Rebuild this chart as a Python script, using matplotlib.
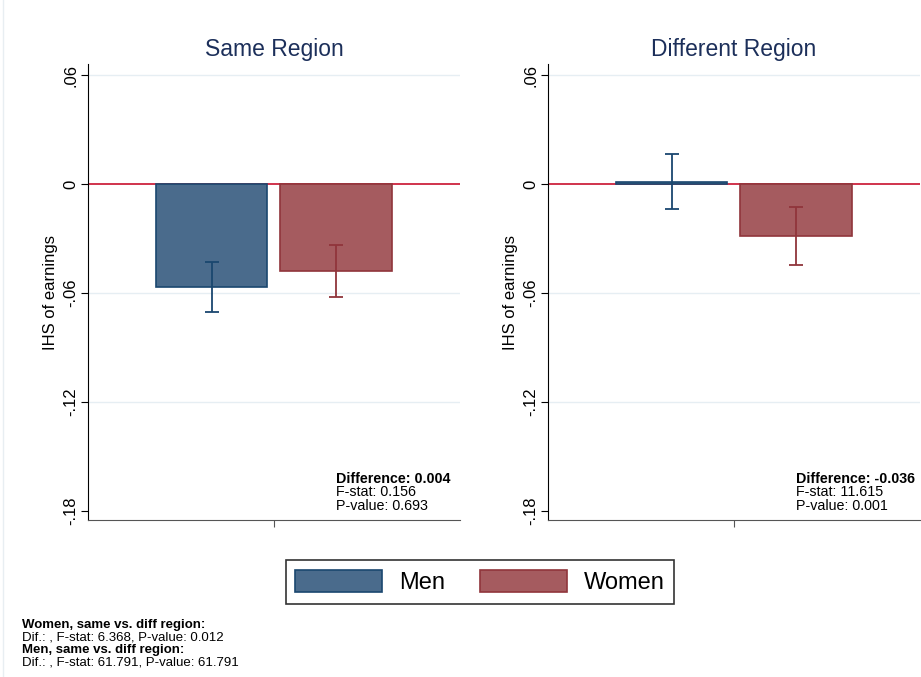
import matplotlib.pyplot as plt
from matplotlib.patches import Patch
from matplotlib.lines import Line2D

plt.rcParams["font.family"] = ["Liberation Sans", "DejaVu Sans"]

# values
panels = ["Same Region", "Different Region"]
groups = ["Men", "Women"]
men_mean = [-0.0567, 0.0012]
men_lo = [-0.0702, -0.0139]
men_hi = [-0.0432, 0.0167]
women_mean = [-0.0479, -0.0286]
women_lo = [-0.0622, -0.0447]
women_hi = [-0.0338, -0.0129]
diff_text = ["0.004", "-0.036"]
fstat_text = ["0.156", "11.615"]
pval_text = ["0.693", "0.001"]
yticks = [0.06, 0, -0.06, -0.12, -0.18]
ytick_labels = [".06", "0", "-.06", "-.12", "-.18"]
notes = [
    ("Women, same vs. diff region:", "bold"),
    ("Dif.: , F-stat: 6.368, P-value: 0.012", "normal"),
    ("Men, same vs. diff region:", "bold"),
    ("Dif.: , F-stat: 61.791, P-value: 61.791", "normal"),
]

men_fill, men_edge = "#4a6b8c", "#1a476f"
women_fill, women_edge = "#a55b5f", "#90353b"

fig = plt.figure(figsize=(9.21, 6.77), dpi=100)
fig.add_artist(Line2D([3 / 921, 3 / 921], [0, 1], color="#e8eef2", lw=1))
lefts = [88 / 921, 548 / 921]
for i, title in enumerate(panels):
    ax = fig.add_axes([lefts[i], 1 - 520 / 677, 372 / 921, 456 / 677])
    ax.axhline(0, color="#c8102e", lw=1.2, zorder=1)
    for y in [-0.06, -0.12, 0.06]:
        ax.axhline(y, color="#e6eef3", lw=1, zorder=0)
    for x, m, lo, hi, fc, ec in [
        (-0.335, men_mean[i], men_lo[i], men_hi[i], men_fill, men_edge),
        (0.333, women_mean[i], women_lo[i], women_hi[i], women_fill, women_edge),
    ]:
        ax.bar(x, m, width=0.6, color=fc, edgecolor=ec, lw=1.2, zorder=2)
        ax.errorbar(x, m, yerr=[[m - lo], [hi - m]], fmt="none", ecolor=ec,
                    elinewidth=1.3, capsize=5, capthick=1.3, zorder=3)
    ax.set_xlim(-1, 1)
    ax.set_ylim(-0.185, 0.0661)
    ax.set_yticks(yticks)
    ax.set_yticklabels(ytick_labels, rotation=90, va="center", fontsize=12)
    ax.set_xticks([0])
    ax.set_xticklabels([""])
    ax.tick_params(axis="x", length=5, color="#555555")
    ax.tick_params(axis="y", length=5, pad=2)
    for s in ["top", "right"]:
        ax.spines[s].set_visible(False)
    ax.spines["bottom"].set_color("#555555")
    ax.set_ylabel("IHS of earnings", fontsize=12, labelpad=4)
    ax.set_title(title, fontsize=16.5, color="#1c2f5a", pad=6)
    ax.text(0.667, 0.082, "Difference: " + diff_text[i], transform=ax.transAxes,
            fontsize=10.3, fontweight="bold", va="baseline")
    ax.text(0.667, 0.052, "F-stat: " + fstat_text[i], transform=ax.transAxes,
            fontsize=10.3, va="baseline")
    ax.text(0.667, 0.022, "P-value: " + pval_text[i], transform=ax.transAxes,
            fontsize=10.3, va="baseline")

handles = [Patch(facecolor=men_fill, edgecolor=men_edge, lw=1.2),
           Patch(facecolor=women_fill, edgecolor=women_edge, lw=1.2)]
leg = fig.legend(handles, groups, loc="center", bbox_to_anchor=(480 / 921, 1 - 582 / 677),
                 ncol=2, fontsize=17, frameon=True, fancybox=False, edgecolor="black",
                 handlelength=3.7, handleheight=1.1, handletextpad=0.72,
                 columnspacing=1.45, borderpad=0.4, borderaxespad=0)
leg.get_frame().set_linewidth(1.2)

for k, (txt, w) in enumerate(notes):
    fig.text(22 / 921, 1 - (625 + k * 12.5) / 677, txt, fontsize=9.5, fontweight=w,
             va="center")

fig.savefig("out.png", dpi=100)
